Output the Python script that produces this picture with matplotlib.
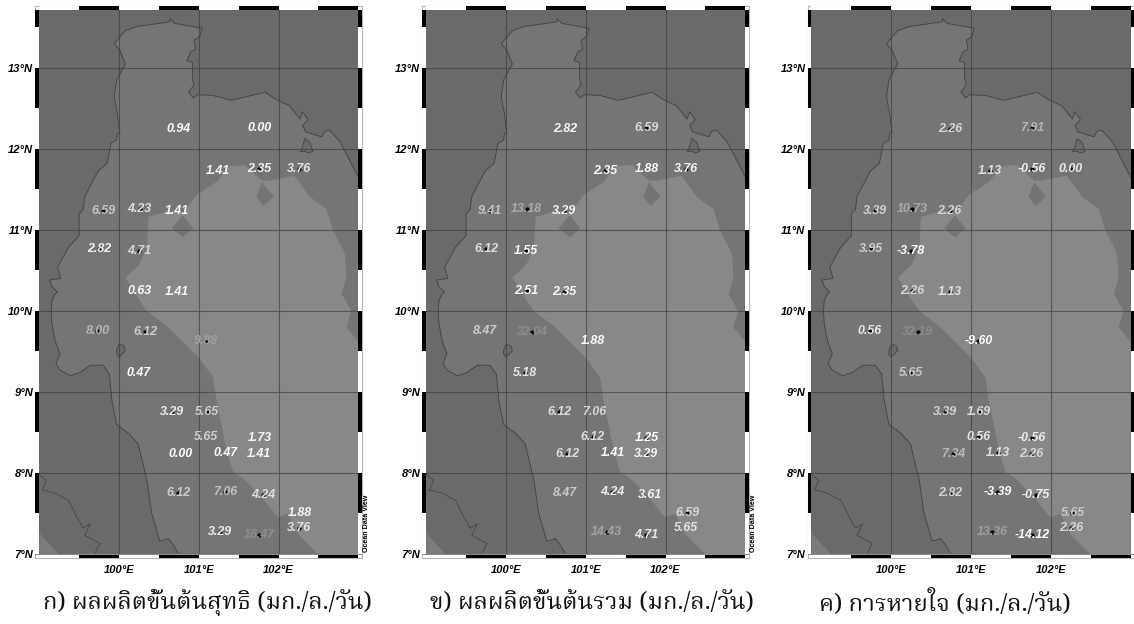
import numpy as np
import matplotlib
matplotlib.use("Agg")
import matplotlib.pyplot as plt
from matplotlib import font_manager as fm
from matplotlib.ft2font import FT2Font
from matplotlib.patches import Polygon, Rectangle

# ---------- data ----------
station_lon = [100.74,101.76,101.24,101.76,102.25,99.80,100.26,100.73,99.75,100.25,100.26,100.73,99.73,100.33,101.09,
               100.24,100.67,101.10,101.09,101.76,100.77,101.34,101.75,100.74,101.33,101.81,102.27,102.25,101.26,101.76]
station_lat = [12.25,12.26,11.73,11.75,11.75,11.24,11.26,11.24,10.76,10.74,10.25,10.24,9.75,9.74,9.63,
               9.23,8.75,8.75,8.44,8.43,8.24,8.25,8.24,7.75,7.77,7.73,7.50,7.32,7.27,7.24]
net_pp = [0.94,0.00,1.41,2.35,3.76,6.59,4.23,1.41,2.82,4.71,0.63,1.41,8.00,6.12,9.88,
          0.47,3.29,5.65,5.65,1.73,0.00,0.47,1.41,6.12,7.06,4.24,1.88,3.76,3.29,16.47]
gross_pp = [2.82,6.59,2.35,1.88,3.76,9.41,13.18,3.29,6.12,1.55,2.51,2.35,8.47,32.04,1.88,
            5.18,6.12,7.06,6.12,1.25,6.12,1.41,3.29,8.47,4.24,3.61,6.59,5.65,14.43,4.71]
respiration = [2.26,7.91,1.13,-0.56,0.00,3.39,10.73,2.26,3.95,-3.78,2.26,1.13,0.56,32.19,-9.60,
               5.65,3.39,1.69,0.56,-0.56,7.34,1.13,2.26,2.82,-3.39,-0.75,5.65,2.26,13.36,-14.12]
dots_net = [0,0,0,1,1,1,1,0,1,1,0,0,1,1,1,0,1,1,0,0,0,0,0,1,1,1,0,1,1,1]
dots_gross = [0,1,1,0,1,1,1,1,1,1,1,1,0,1,0,1,1,0,1,1,1,0,1,0,1,0,1,0,1,1]
dots_resp = [1]*30
captions = ["ก) ผลผลิตขั้นต้นสุทธิ (มก./ล./วัน)",
            "ข) ผลผลิตขั้นต้นรวม (มก./ล./วัน)",
            "ค) การหายใจ (มก./ล./วัน)"]
lon_ticks = [100, 101, 102]
lat_ticks = [7, 8, 9, 10, 11, 12, 13]

gulf_lon = [100.74,100.68,100.62,100.56,100.51,100.47,100.41,100.35,100.24,100.12,99.97,99.91,99.88,99.80,99.64,99.51,99.39,99.26,99.21,99.26,99.20,99.16,99.15,
            99.16,99.20,99.23,99.16,99.13,99.18,99.27,99.23,99.37,99.50,99.50,99.55,99.57,99.74,99.85,99.90,99.97,99.98,100.01,99.98,99.94,99.97,100.08,100.01,99.94,100.08,100.22,100.64,100.64,100.70,101.04,101.01,100.94,100.96,100.90,100.85,100.92,100.92,100.94,100.87,100.93,100.99,101.18,101.41,101.83,101.97,102.14,102.27,102.30,102.37,102.30,102.34,102.54,102.58,102.64,102.77,103.0]
gulf_lat = [7.01,7.11,7.19,7.17,7.16,7.30,7.50,7.91,8.36,8.49,8.60,8.90,9.22,9.33,9.33,9.24,9.20,9.27,9.35,9.47,9.63,9.84,10.0,
            10.13,10.21,10.23,10.30,10.38,10.39,10.40,10.54,10.79,10.93,11.20,11.25,11.41,11.73,11.82,12.07,12.11,12.19,12.20,12.44,12.64,12.85,13.05,13.22,13.30,13.46,13.51,13.57,13.61,13.55,13.49,13.39,13.34,13.23,13.20,13.09,13.07,12.87,12.79,12.70,12.63,12.67,12.66,12.60,12.70,12.61,12.53,12.37,12.46,12.36,12.29,12.21,12.15,12.22,12.23,12.09,11.65]
andaman_lon = [99.0,99.01,99.09,99.04,99.20,99.37,99.47,99.55,99.64,99.57,99.76,99.70]
andaman_lat = [8.0,7.97,7.91,7.79,7.75,7.66,7.46,7.32,7.37,7.23,7.13,7.01]
chang_lon = [102.29,102.33,102.39,102.43,102.37,102.33,102.27]
chang_lat = [12.00,12.13,12.08,11.97,11.95,11.97,11.97]
samui_lon = [99.97,100.0,100.06,100.08,100.0,99.97]
samui_lat = [9.51,9.59,9.57,9.51,9.43,9.47]
light_lon = [100.08,100.26,100.35,100.37,100.64,100.80,100.97,101.22,101.39,101.58,101.79,101.89,102.20,102.39,102.60,102.68,102.83,102.85,102.79,102.91,102.85,103.0,103.0,102.49,102.24,102.12,101.99,101.80,101.55,101.43,101.35,101.22,101.18,101.01,100.81,100.59,100.35,100.26]
light_lat = [10.41,10.58,10.79,11.16,11.24,11.20,11.43,11.59,11.79,11.80,11.61,11.61,11.67,11.41,11.26,11.00,10.71,10.42,10.21,10.0,9.80,9.62,7.0,7.0,7.25,7.50,7.45,7.69,7.94,8.01,8.28,8.90,9.18,9.41,9.61,9.82,10.0,10.13]
diamond_a_lon = [101.79,101.94,101.81,101.72]
diamond_a_lat = [11.59,11.41,11.30,11.41]
diamond_b_lon = [100.80,100.93,100.80,100.66]
diamond_b_lat = [11.18,11.02,10.91,11.02]
wedge_lon = [99.0,99.24,99.0]
wedge_lat = [7.26,7.0,7.0]

# value -> label grey, one scale per panel
grey_scales = [([0,2.9,4.2,6.1,8,9.9,16.5],[255,240,222,204,180,160,143]),
               ([1,4.3,6.5,9.4,13.2,14.4,32],[255,238,218,196,172,164,140]),
               ([-14,-3,0,2.3,5.6,7.3,10.7,13.4,32.2],[255,250,235,214,200,186,170,160,140])]

# ---------- fonts ----------
def thai_font():
    for pref in ("Noto Serif Thai", "Norasi", "Kinnari", "Garuda", "Loma", "Waree", "Tahoma", "Noto Sans Thai"):
        try:
            return fm.findfont(pref, fallback_to_default=False)
        except Exception:
            pass
    for f in fm.fontManager.ttflist:
        try:
            if 0x0E01 in FT2Font(f.fname).get_charmap():
                return f.fname
        except Exception:
            pass
    return None

thai = thai_font()
cap_kw = dict(fontproperties=fm.FontProperties(fname=thai, size=17.2)) if thai else dict(family="DejaVu Sans", fontsize=16)
lab = dict(family="Liberation Sans", fontweight="bold", fontstyle="italic")

# ---------- layout (pixels) ----------
W, H = 1134, 624
PX_LON, PX_LAT = 79.8, 81.0
XMIN, XMAX, YMIN, YMAX = 98.95, 103.05, 6.95, 13.77
X100 = [119.0, 506.0, 891.3]
CAP_X = [207, 592, 945]
Y_BOTTOM = 558.0
LAND, SEA, LIGHT, MID, LINE = "#6a6a6a", "#757575", "#888888", "#747474", "#444444"

fig = plt.figure(figsize=(W/100, H/100), dpi=100, facecolor="white")

panels = [(net_pp, dots_net), (gross_pp, dots_gross), (respiration, dots_resp)]
for i, (vals, dots) in enumerate(panels):
    left = X100[i] + (XMIN-100)*PX_LON
    w = (XMAX-XMIN)*PX_LON
    h = (YMAX-YMIN)*PX_LAT
    ax = fig.add_axes([left/W, 1-Y_BOTTOM/H, w/W, h/H])
    ax.set_xlim(XMIN, XMAX)
    ax.set_ylim(YMIN, YMAX)
    ax.set_facecolor("white")
    for s in ax.spines.values():
        s.set_color("#b5b5b5"); s.set_linewidth(0.8)

    # map background
    ax.add_patch(Rectangle((99, 7), 4, 6.71, fc=LAND, ec="none", zorder=1))
    ax.add_patch(Polygon(list(zip(wedge_lon, wedge_lat)), fc="#7b7b7b", ec="none", zorder=1.1))
    ax.add_patch(Polygon(list(zip(gulf_lon, gulf_lat)) + [(103, 7)], fc=SEA, ec="none", zorder=1.2))
    ax.add_patch(Polygon(list(zip(light_lon, light_lat)), fc=LIGHT, ec="none", zorder=1.3))
    for dx, dy in ((diamond_a_lon, diamond_a_lat), (diamond_b_lon, diamond_b_lat)):
        ax.add_patch(Polygon(list(zip(dx, dy)), fc=MID, ec="none", zorder=1.4))
    for ix, iy in ((chang_lon, chang_lat), (samui_lon, samui_lat)):
        ax.add_patch(Polygon(list(zip(ix, iy)), fc=LAND, ec=LINE, lw=0.6, zorder=1.5))
    ax.plot(gulf_lon, gulf_lat, color=LINE, lw=0.65, zorder=2)
    ax.plot(andaman_lon, andaman_lat, color=LINE, lw=0.55, zorder=2)

    # alternating frame bands
    for x0 in np.arange(99, 103, 0.5):
        c = "black" if (x0*2) % 2 == 1 else "white"
        ax.add_patch(Rectangle((x0, 13.71), 0.5, 0.05, fc=c, ec="none", zorder=3))
        ax.add_patch(Rectangle((x0, 6.955), 0.5, 0.035, fc=c, ec="none", zorder=3))
    for y0 in np.arange(7, 13.71, 0.5):
        y1 = min(y0+0.5, 13.71)
        c = "black" if (y0*2) % 2 == 1 else "white"
        for xb in (98.95, 103.0):
            ax.add_patch(Rectangle((xb, y0), 0.05, y1-y0, fc=c, ec="none", zorder=3))
    ax.axhline(7, color="#8a8a8a", lw=0.7, zorder=3)

    # grid + ticks
    ax.set_xticks(lon_ticks)
    ax.set_xticklabels([f"{v}°E" for v in lon_ticks], fontsize=8, **lab)
    ax.set_yticks(lat_ticks)
    ax.set_yticklabels([f"{v}°N" for v in lat_ticks], fontsize=8, **lab)
    ax.tick_params(length=0, pad=1.5)
    ax.tick_params(axis="x", pad=5)
    for v in lon_ticks:
        ax.plot([v, v], [7, 13.71], color="#404040", lw=0.8, alpha=0.7, zorder=2.5)
    for v in lat_ticks[1:]:
        ax.plot([99, 103], [v, v], color="#404040", lw=0.8, alpha=0.7, zorder=2.5)

    # stations + values (labels sit over the station dots)
    xp, fp = grey_scales[i]
    for lo, la, v, d in zip(station_lon, station_lat, vals, dots):
        g = np.interp(v, xp, fp) / 255
        if d:
            ax.plot([lo], [la], "o", color="black", ms=3.0, mew=0, zorder=3.5)
        ax.text(lo, la, f"{v:.2f}", color=(g, g, g), fontsize=8.9, ha="center", va="center", zorder=4, **lab)

    if i < 2:
        ax.text(103.1, 7.03, "Ocean Data View", rotation=90, fontsize=5.1, color="black",
                family="Liberation Sans", fontweight="bold", ha="center", va="bottom", clip_on=False, zorder=6)

    fig.text(CAP_X[i]/W, 1-603/H, captions[i], ha="center", va="center", color="#111111", **cap_kw)

fig.savefig("out.png", dpi=100)
